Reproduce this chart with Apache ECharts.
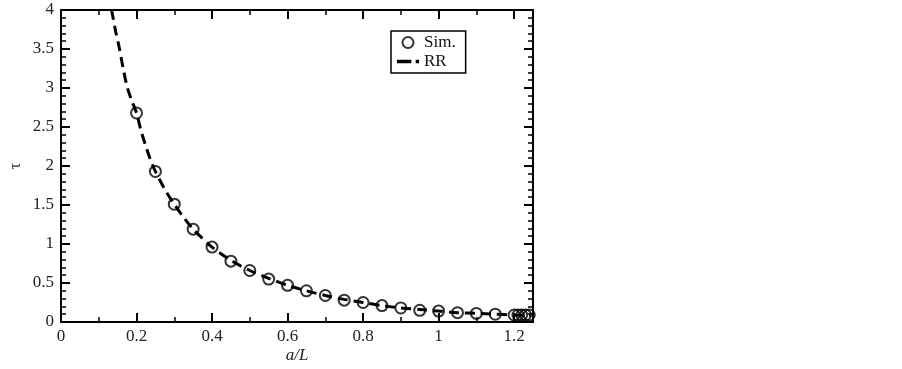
<!DOCTYPE html>
<html>
<head>
<meta charset="utf-8">
<script src="https://cdn.jsdelivr.net/npm/echarts@6/dist/echarts.min.js"></script>
<style>html,body{margin:0;padding:0;background:#fff}#c{width:902px;height:369px}</style>
</head>
<body>
<div id="c"></div>
<script>
// Simulation points (a/L, tau)
const simX = [0.2, 0.25, 0.3, 0.35, 0.4, 0.45, 0.5, 0.55, 0.6, 0.65, 0.7, 0.75, 0.8, 0.85, 0.9, 0.95, 1.0, 1.05, 1.1, 1.15, 1.2, 1.21, 1.22, 1.23, 1.24];
const simY = [2.68, 1.93, 1.51, 1.19, 0.96, 0.78, 0.66, 0.55, 0.47, 0.40, 0.34, 0.28, 0.25, 0.21, 0.18, 0.15, 0.14, 0.12, 0.11, 0.10, 0.09, 0.09, 0.09, 0.09, 0.09];
// RR curve
const rrX = [0.134, 0.145, 0.155, 0.165, 0.176, 0.188, 0.2, 0.212, 0.225, 0.237, 0.25, 0.275, 0.3, 0.325, 0.35, 0.375, 0.4, 0.45, 0.5, 0.55, 0.6, 0.65, 0.7, 0.75, 0.8, 0.85, 0.9, 0.95, 1.0, 1.05, 1.1, 1.15, 1.2, 1.245];
const rrY = [4.0, 3.72, 3.5, 3.24, 3.0, 2.83, 2.68, 2.45, 2.25, 2.08, 1.93, 1.70, 1.51, 1.34, 1.19, 1.07, 0.96, 0.79, 0.66, 0.56, 0.47, 0.40, 0.34, 0.29, 0.25, 0.21, 0.18, 0.16, 0.14, 0.12, 0.11, 0.10, 0.09, 0.085];
const xTicks = [0, 0.2, 0.4, 0.6, 0.8, 1, 1.2];
const yTicks = [0, 0.5, 1, 1.5, 2, 2.5, 3, 3.5, 4];
const seriesNames = ['Sim.', 'RR'];

const font = 'Liberation Serif';
const axisLine = {show: true, onZero: false, lineStyle: {color: '#000', width: 2}};
const tick = {show: true, inside: true, length: 9, lineStyle: {color: '#000', width: 2}};
const minor = (n) => ({show: true, splitNumber: n, length: 5, lineStyle: {color: '#000', width: 1.5}});

const chart = echarts.init(document.getElementById('c'));
chart.setOption({
  animation: false,
  backgroundColor: '#fff',
  grid: {left: 59, right: 369, top: 10, bottom: 47},
  legend: {
    left: 391, top: 31, orient: 'vertical',
    borderColor: '#000', borderWidth: 1.5, padding: [3, 10, 3, 6],
    itemGap: 2, itemWidth: 22, itemHeight: 11,
    textStyle: {fontFamily: font, fontSize: 17, color: '#111'},
    data: [
      {name: seriesNames[0], icon: 'circle'},
      {name: seriesNames[1], icon: 'path://M0,0H13V3H0Z M17,0H20V3H17Z'}
    ]
  },
  xAxis: [
    {type: 'value', min: 0, max: 1.25, interval: 0.2, position: 'bottom',
     name: 'a/L', nameLocation: 'middle', nameGap: 25, nameMoveOverlap: false,
     nameTextStyle: {fontFamily: font, fontSize: 17, fontStyle: 'italic', color: '#222'},
     axisLine, axisTick: tick, minorTick: minor(2), splitLine: {show: false},
     axisLabel: {fontFamily: font, fontSize: 17, color: '#222', margin: 6, showMaxLabel: false,
       formatter: v => xTicks.some(t => Math.abs(t - v) < 1e-9) ? String(v) : ''}},
    {type: 'value', min: 0, max: 1.25, interval: 0.2, position: 'top',
     axisLine, axisTick: tick, minorTick: minor(2), splitLine: {show: false},
     axisLabel: {show: false}}
  ],
  yAxis: [
    {type: 'value', min: 0, max: 4, interval: 0.5, position: 'left',
     name: 'τ', nameLocation: 'middle', nameGap: 37, nameMoveOverlap: false,
     nameTextStyle: {fontFamily: font, fontSize: 16, color: '#222'},
     axisLine, axisTick: tick, minorTick: minor(5), splitLine: {show: false},
     axisLabel: {fontFamily: font, fontSize: 17, color: '#222', margin: 7,
       formatter: v => yTicks.some(t => Math.abs(t - v) < 1e-9) ? String(v) : ''}},
    {type: 'value', min: 0, max: 4, interval: 0.5, position: 'right',
     axisLine, axisTick: tick, minorTick: minor(5), splitLine: {show: false},
     axisLabel: {show: false}}
  ],
  series: [
    {name: seriesNames[0], type: 'scatter', xAxisIndex: 0, yAxisIndex: 0,
     symbol: 'circle', symbolSize: 11, z: 3,
     itemStyle: {color: 'rgba(255,255,255,0)', borderColor: '#000', borderWidth: 2},
     data: simX.map((x, i) => [x, simY[i]])},
    {name: seriesNames[1], type: 'line', xAxisIndex: 0, yAxisIndex: 0,
     symbol: 'none', smooth: 0.3, z: 2,
     lineStyle: {color: '#000', width: 3, type: [10, 6]},
     itemStyle: {color: '#000'},
     data: rrX.map((x, i) => [x, rrY[i]])}
  ]
});
</script>
</body>
</html>
